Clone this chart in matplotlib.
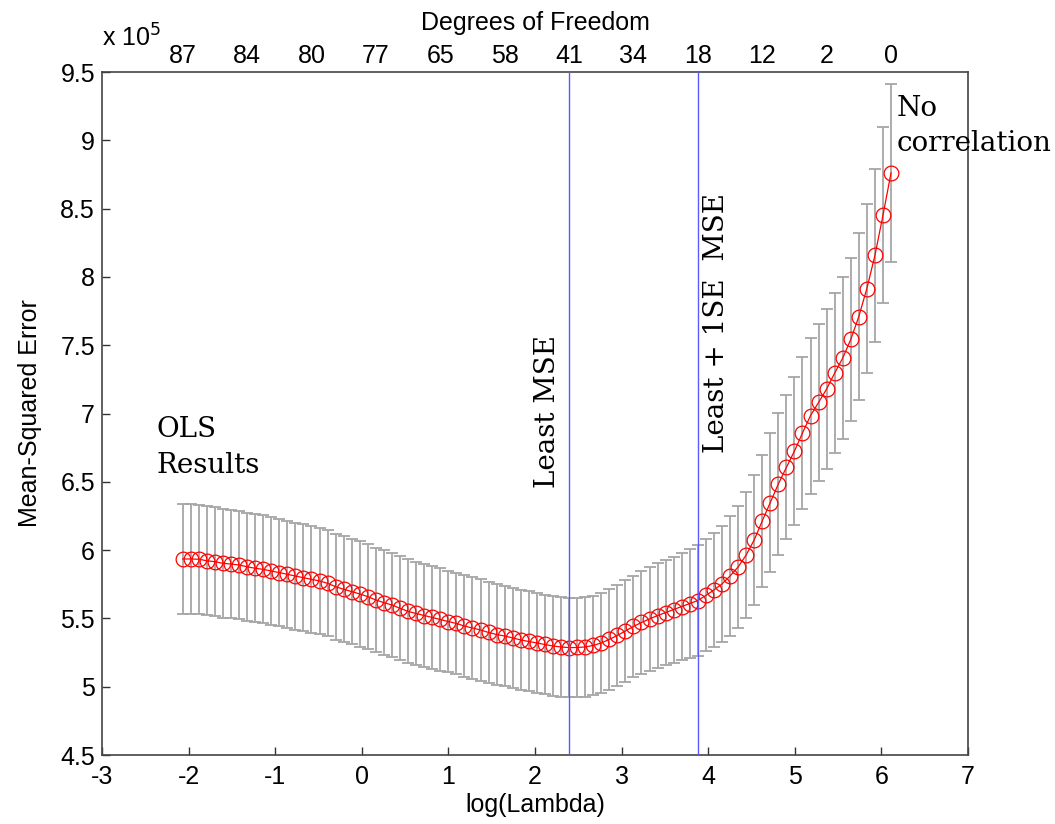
import numpy as np
import matplotlib
matplotlib.use("Agg")
import matplotlib.pyplot as plt

# ---- data (MSE and standard error in units of 1e5) ----
log_lambda_first = -2.068
log_lambda_last = 6.111
n_lambda = 89

mse_e5 = [5.935, 5.935, 5.933, 5.922, 5.915, 5.903, 5.898, 5.891, 5.878, 5.867,
          5.859, 5.847, 5.835, 5.823, 5.810, 5.798, 5.786, 5.774, 5.757, 5.732,
          5.713, 5.696, 5.679, 5.659, 5.635, 5.615, 5.598, 5.574, 5.551, 5.536,
          5.521, 5.507, 5.492, 5.477, 5.463, 5.444, 5.430, 5.415, 5.397, 5.382,
          5.371, 5.357, 5.342, 5.331, 5.320, 5.309, 5.298, 5.291, 5.286, 5.287,
          5.291, 5.302, 5.320, 5.346, 5.375, 5.408, 5.441, 5.470, 5.496, 5.521,
          5.543, 5.565, 5.587, 5.609, 5.631, 5.668, 5.708, 5.752, 5.810, 5.876,
          5.964, 6.074, 6.213, 6.348, 6.484, 6.605, 6.725, 6.857, 6.985, 7.081,
          7.179, 7.296, 7.406, 7.542, 7.710, 7.915, 8.157, 8.451, 8.761]

se_e5 = [0.401, 0.401, 0.400, 0.400, 0.400, 0.399, 0.398, 0.397, 0.396, 0.395,
         0.395, 0.394, 0.393, 0.392, 0.392, 0.391, 0.390, 0.389, 0.389, 0.388,
         0.387, 0.387, 0.386, 0.385, 0.384, 0.384, 0.383, 0.382, 0.381, 0.379,
         0.378, 0.376, 0.375, 0.373, 0.373, 0.372, 0.371, 0.370, 0.370, 0.369,
         0.368, 0.367, 0.367, 0.366, 0.365, 0.365, 0.365, 0.365, 0.364, 0.364,
         0.365, 0.365, 0.366, 0.368, 0.369, 0.370, 0.373, 0.375, 0.378, 0.381,
         0.384, 0.388, 0.392, 0.398, 0.403, 0.410, 0.419, 0.427, 0.439, 0.445,
         0.460, 0.476, 0.482, 0.507, 0.518, 0.527, 0.540, 0.559, 0.571, 0.576,
         0.586, 0.586, 0.593, 0.598, 0.608, 0.622, 0.631, 0.644, 0.651]

df_tick_labels = ["87", "84", "80", "77", "65", "58", "41", "34", "18", "12", "2", "0"]
df_tick_step = 8

x_ticks = [-3, -2, -1, 0, 1, 2, 3, 4, 5, 6, 7]
y_ticks = [4.5, 5, 5.5, 6, 6.5, 7, 7.5, 8, 8.5, 9, 9.5]
y_tick_labels = ["4.5", "5", "5.5", "6", "6.5", "7", "7.5", "8", "8.5", "9", "9.5"]

# ---- derived ----
log_lambda = np.linspace(log_lambda_first, log_lambda_last, n_lambda)
mse = np.array(mse_e5)
se = np.array(se_e5)
i_min = int(np.argmin(mse))
thresh = mse[i_min] + se[i_min]
i_1se = int(np.max(np.where(mse <= thresh)[0]))

plt.rcParams['font.family'] = ['Liberation Sans', 'DejaVu Sans']

W, H = 1055, 824
fig = plt.figure(figsize=(W / 100, H / 100), dpi=100)
L, R, T, B = 102, 968, 72, 755
ax = fig.add_axes([L / W, 1 - B / H, (R - L) / W, (B - T) / H])

ax.errorbar(log_lambda, mse, yerr=se, fmt='none', ecolor='#a6a6a6',
            elinewidth=1.3, capsize=4.6, capthick=1.3, zorder=2)
ax.plot(log_lambda, mse, '-o', color='red', mfc='none', mec='red',
        ms=10.6, mew=0.9, lw=0.9, zorder=3)
ax.axvline(log_lambda[i_min], color='#5a5aff', lw=1.0, zorder=4)
ax.axvline(log_lambda[i_1se], color='#5a5aff', lw=1.0, zorder=4)

ax.set_xlim(-3, 7)
ax.set_ylim(4.5, 9.5)
ax.set_xticks(x_ticks)
ax.set_xticklabels([str(v) for v in x_ticks])
ax.set_yticks(y_ticks)
ax.set_yticklabels(y_tick_labels)
ax.tick_params(direction='in', length=6, width=1, labelsize=18,
               color='#333333', pad=7)
ax.tick_params(axis='y', pad=5)
for s in ax.spines.values():
    s.set_color('#444444')
    s.set_linewidth(1.2)

ax.set_xlabel('log(Lambda)', fontsize=18, labelpad=3)
ax.set_ylabel('Mean-Squared Error', fontsize=18, labelpad=13)

# top axis: degrees of freedom
ax2 = ax.twiny()
ax2.set_xlim(ax.get_xlim())
ax2.set_xticks(log_lambda[::df_tick_step])
ax2.set_xticklabels(df_tick_labels)
ax2.tick_params(axis='x', length=0, labelsize=18, pad=3)
ax2.set_xlabel('Degrees of Freedom', fontsize=18, labelpad=10)
for s in ax2.spines.values():
    s.set_visible(False)

ax.text(0.0, 1.03, r'x 10$^{5}$', transform=ax.transAxes, fontsize=18,
        ha='left', va='bottom')

serif = ['DejaVu Serif']
ax.text(-2.37, 6.98, 'OLS\nResults', fontsize=20, family=serif,
        ha='left', va='top', linespacing=1.4)
ax.text(6.18, 9.33, 'No\ncorrelation', fontsize=20, family=serif,
        ha='left', va='top', linespacing=1.35, clip_on=False, zorder=6)
ax.text(2.15, 7.015, 'Least MSE', fontsize=20, family=serif, rotation=90,
        ha='center', va='center')
ax.text(4.10, 7.666, 'Least + 1SE  MSE', fontsize=20, family=serif,
        rotation=90, ha='center', va='center')

fig.savefig('out.png', dpi=100)
